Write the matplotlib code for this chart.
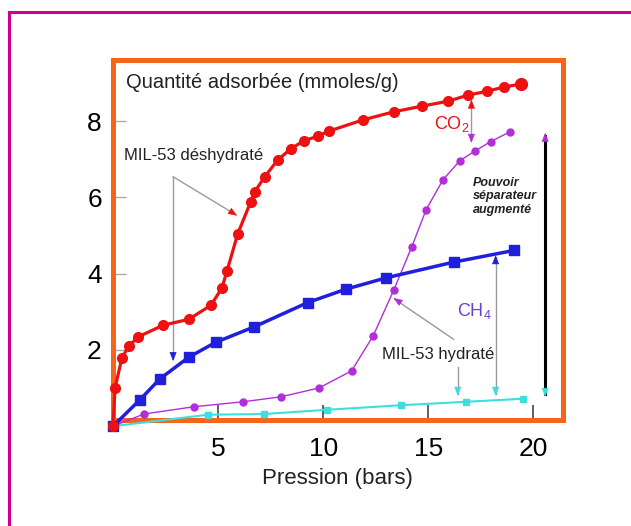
import matplotlib
matplotlib.use("Agg")
import matplotlib.pyplot as plt
from matplotlib.lines import Line2D

plt.rcParams['font.family'] = ['Liberation Sans', 'DejaVu Sans']
plt.rcParams['mathtext.fontset'] = 'custom'
plt.rcParams['mathtext.rm'] = 'Liberation Sans'
plt.rcParams['mathtext.it'] = 'Liberation Sans:italic'

# CO2 on dehydrated MIL-53
x_red = [0, 0.1, 0.43, 0.76, 1.19, 2.4, 3.6, 4.66, 5.18, 5.42, 5.94, 6.56, 6.75,
         7.22, 7.84, 8.46, 9.07, 9.74, 10.3, 11.9, 13.35, 14.7, 15.95, 16.9, 17.8,
         18.6, 19.4]
y_red = [0, 1.0, 1.8, 2.1, 2.34, 2.65, 2.8, 3.17, 3.62, 4.06, 5.05, 5.89, 6.15,
         6.54, 6.98, 7.27, 7.48, 7.6, 7.74, 8.03, 8.24, 8.39, 8.52, 8.68, 8.78,
         8.89, 8.97]

# CH4 on dehydrated MIL-53
x_blue = [0, 1.28, 2.23, 3.61, 4.89, 6.7, 9.26, 11.07, 13.0, 16.2, 19.1]
y_blue = [0, 0.69, 1.24, 1.81, 2.2, 2.6, 3.24, 3.59, 3.89, 4.3, 4.61]

# CO2 on hydrated MIL-53
x_mag = [0, 1.48, 3.85, 6.18, 7.98, 9.79, 11.35, 12.38, 13.35, 14.22, 14.9,
         15.7, 16.5, 17.24, 17.96, 18.9]
y_mag = [0, 0.32, 0.51, 0.64, 0.77, 1.0, 1.45, 2.37, 3.56, 4.71, 5.68,
         6.46, 6.96, 7.22, 7.46, 7.72]

# CH4 on hydrated MIL-53
x_cyan = [0, 4.5, 7.2, 10.17, 13.7, 16.8, 19.5]
y_cyan = [0, 0.3, 0.32, 0.43, 0.55, 0.64, 0.72]

x_ticks = [5, 10, 15, 20]
y_ticks = [2, 4, 6, 8]

RED = '#ee1111'
BLUE = '#1f1fdd'
MAGENTA = '#b22ed8'
CYAN = '#3fdede'
GREY = '#9a9a9a'
ORANGE = '#f7641a'


def head(ax, tip, back, color):
    """Small filled arrowhead at tip; back is an offset in points."""
    ax.annotate('', xy=tip, xytext=back, textcoords='offset points',
                arrowprops=dict(arrowstyle='-|>,head_length=0.55,head_width=0.22',
                                color=color, lw=0.5, shrinkA=0, shrinkB=0),
                annotation_clip=False, zorder=6)


fig = plt.figure(figsize=(6.31, 5.26), dpi=100)
ax = fig.add_axes([0.179, 0.2006, 0.713, 0.6854])
ax.set_xlim(0, 21.4)
ax.set_ylim(0.15, 9.6)

for s in ax.spines.values():
    s.set_color(ORANGE)
    s.set_linewidth(3.6)

ax.set_xticks(x_ticks)
ax.set_yticks(y_ticks)
ax.tick_params(axis='x', direction='in', length=11, width=1.3, color='#555555',
               labelsize=19, pad=12)
ax.tick_params(axis='y', direction='in', length=9, width=1, color='#aaaaaa',
               labelsize=19, pad=8)
ax.set_xlabel('Pression (bars)', fontsize=16, labelpad=5, color='#222222')

# curves
ax.plot(x_cyan, y_cyan, color=CYAN, lw=1.5, marker='s', ms=4.5, clip_on=False, zorder=3)
ax.plot(x_mag, y_mag, color=MAGENTA, lw=1, marker='o', ms=5, clip_on=False, zorder=3)
ax.plot(x_blue, y_blue, color=BLUE, lw=2.5, marker='s', ms=6.5, clip_on=False, zorder=4)
ax.plot(x_red, y_red, color=RED, lw=2.3, marker='o', ms=7, clip_on=False, zorder=5)
ax.plot(x_red[-1], y_red[-1], color=RED, marker='o', ms=8.5, zorder=5)

# texts
ax.text(0.63, 9.02, 'Quantité adsorbée (mmoles/g)', fontsize=14.5, va='center',
        color='#222222')
ax.text(0.54, 7.09, 'MIL-53 déshydraté', fontsize=12, va='center', color='#222222')
ax.text(15.49, 1.87, 'MIL-53 hydraté', fontsize=12, ha='center', va='center',
        color='#222222')
ax.text(16.95, 7.92, 'CO$_2$', fontsize=13, ha='right', va='center', color=RED)
ax.text(18.0, 3.02, 'CH$_4$', fontsize=13, ha='right', va='center', color='#6a3fd6')
for yy, txt in zip([6.38, 6.03, 5.68], ['Pouvoir', 'séparateur', 'augmenté']):
    ax.text(17.1, yy, txt, fontsize=9, fontweight='bold', fontstyle='italic',
            va='center', color='#222222')

# pointer lines from the labels
ax.plot([2.86, 2.86], [6.54, 1.75], color=GREY, lw=1, zorder=2)
head(ax, (2.86, 1.71), (0, 6), BLUE)
ax.plot([2.86, 5.85], [6.54, 5.54], color=GREY, lw=1, zorder=2)
head(ax, (5.9, 5.52), (-5, 3.2), RED)

ax.plot([16.2, 13.4], [2.28, 3.33], color=GREY, lw=1, zorder=2)
head(ax, (13.35, 3.36), (5, -3.4), MAGENTA)
ax.plot([16.4, 16.4], [1.55, 0.85], color=GREY, lw=1, zorder=2)
head(ax, (16.4, 0.8), (0, 6), CYAN)

# gap arrows
ax.plot([17.05, 17.05], [8.5, 7.48], color=GREY, lw=1, zorder=2)
head(ax, (17.05, 8.56), (0, -6), RED)
head(ax, (17.05, 7.43), (0, 6), MAGENTA)

ax.plot([18.2, 18.2], [4.43, 0.85], color=GREY, lw=1, zorder=2)
head(ax, (18.2, 4.48), (0, -6), BLUE)
head(ax, (18.2, 0.8), (0, 6), CYAN)

ax.plot([20.56, 20.56], [7.6, 0.85], color='black', lw=2.2, zorder=2)
head(ax, (20.56, 7.69), (0, -6), MAGENTA)
head(ax, (20.56, 0.77), (0, 6), CYAN)

# magenta page border (top and left only)
fig.add_artist(Line2D([9 / 631, 1.0], [1 - 11.5 / 526] * 2, color='#cc0099', lw=2.2))
fig.add_artist(Line2D([9 / 631] * 2, [0.0, 1 - 11.5 / 526], color='#cc0099', lw=2.2))

fig.savefig('out.png', dpi=100)
